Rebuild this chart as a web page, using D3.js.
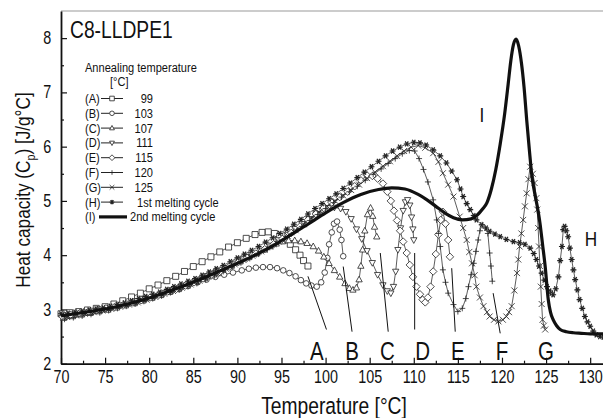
<!DOCTYPE html>
<html lang="en">
<head>
<meta charset="UTF-8">
<title>C8-LLDPE1 heat capacity</title>
<script src="https://d3js.org/d3.v7.min.js"></script>
<style>
    body { margin: 0; background: #fff; }
    svg { display: block; }
    text { font-family: "Liberation Sans", Arial, Helvetica, sans-serif; fill: #111; }
</style>
</head>
<body>
<svg id="chart" width="603" height="418"></svg>
<script>
// [temperature °C, Cp J/g°C]
const seriesA = [[70,2.92],[71,2.94],[72,2.96],[73,2.99],[74,3.02],[75,3.05],[76,3.1],[77,3.16],[78,3.23],[79,3.3],[80,3.38],[81,3.45],[82,3.53],[83,3.61],[84,3.7],[85,3.79],[86,3.88],[87,3.97],[88,4.06],[89,4.15],[90,4.23],[91,4.31],[92,4.38],[92.8,4.42],[93.5,4.43],[94.2,4.4],[94.8,4.35],[95.4,4.28],[96,4.2],[96.6,4.1],[97.1,4.0],[97.5,3.9],[98,3.8]];
const seriesB = [[70.5,2.86],[71.5,2.89],[72.5,2.92],[73.5,2.95],[74.5,2.98],[75.5,3.01],[76.5,3.05],[77.5,3.09],[78.5,3.13],[79.5,3.18],[80.5,3.23],[81.5,3.28],[82.5,3.33],[83.5,3.39],[84.5,3.45],[85.5,3.5],[86.5,3.55],[87.5,3.6],[88.5,3.64],[89.5,3.68],[90.5,3.72],[91.3,3.75],[92.1,3.77],[92.9,3.78],[93.7,3.78],[94.5,3.76],[95.2,3.72],[95.9,3.67],[96.6,3.61],[97.2,3.54],[97.8,3.48],[98.4,3.44],[99.0,3.42],[99.5,3.5],[99.9,3.68],[100.2,3.95],[100.4,4.2],[100.7,4.42],[100.95,4.58],[101.3,4.62],[101.6,4.47],[101.8,4.28],[102.0,3.98]];
const seriesC = [[70.3,2.84],[71.3,2.87],[72.3,2.9],[73.3,2.93],[74.3,2.96],[75.3,2.99],[76.3,3.03],[77.3,3.07],[78.3,3.11],[79.3,3.16],[80.3,3.21],[81.3,3.26],[82.3,3.32],[83.3,3.37],[84.3,3.43],[85.3,3.5],[86.3,3.57],[87.3,3.64],[88.3,3.72],[89.3,3.8],[90.3,3.88],[91.3,3.96],[92.2,4.03],[93.0,4.1],[93.7,4.16],[94.4,4.21],[95.1,4.25],[95.8,4.27],[96.5,4.27],[97.2,4.25],[97.9,4.22],[98.6,4.16],[99.2,4.08],[99.8,3.97],[100.4,3.85],[101.0,3.72],[101.6,3.6],[102.2,3.48],[102.7,3.39],[103.1,3.36],[103.5,3.4],[103.8,3.55],[104.0,3.8],[104.2,4.1],[104.45,4.45],[104.75,4.75],[105.1,4.87],[105.35,4.72],[105.55,4.52],[105.8,4.34]];
const seriesD = [[70.6,2.9],[71.6,2.93],[72.6,2.95],[73.6,2.98],[74.6,3.01],[75.6,3.04],[76.6,3.08],[77.6,3.11],[78.6,3.16],[79.6,3.2],[80.6,3.25],[81.6,3.31],[82.6,3.36],[83.6,3.42],[84.6,3.48],[85.6,3.55],[86.6,3.62],[87.6,3.69],[88.6,3.77],[89.6,3.85],[90.6,3.93],[91.6,4.01],[92.6,4.09],[93.6,4.18],[94.6,4.28],[95.6,4.38],[96.5,4.49],[97.3,4.58],[98.1,4.67],[98.9,4.76],[99.6,4.83],[100.3,4.87],[101.0,4.88],[101.7,4.86],[102.3,4.8],[102.9,4.67],[103.5,4.48],[104.1,4.3],[104.7,4.08],[105.3,3.86],[105.9,3.64],[106.5,3.45],[107.0,3.34],[107.4,3.3],[107.7,3.42],[107.95,3.7],[108.2,4.1],[108.5,4.5],[108.8,4.82],[109.05,4.98],[109.3,5.02],[109.55,4.92],[109.75,4.7],[109.9,4.48],[110.0,4.28]];
const seriesE = [[70.1,2.88],[71.1,2.9],[72.1,2.93],[73.1,2.96],[74.1,2.99],[75.1,3.02],[76.1,3.05],[77.1,3.09],[78.1,3.13],[79.1,3.17],[80.1,3.22],[81.1,3.27],[82.1,3.33],[83.1,3.38],[84.1,3.44],[85.1,3.5],[86.1,3.57],[87.1,3.64],[88.1,3.71],[89.1,3.79],[90.1,3.87],[91.1,3.95],[92.1,4.03],[93.1,4.11],[94.1,4.2],[95.1,4.3],[96.1,4.41],[97.1,4.53],[98.0,4.65],[98.9,4.76],[99.8,4.87],[100.7,4.97],[101.6,5.07],[102.5,5.17],[103.3,5.27],[104.0,5.38],[104.7,5.47],[105.3,5.46],[105.9,5.41],[106.5,5.32],[107.0,5.17],[107.4,5.0],[107.75,4.82],[108.1,4.64],[108.45,4.45],[108.8,4.25],[109.2,4.04],[109.55,3.82],[109.9,3.6],[110.3,3.42],[110.7,3.28],[111.0,3.18],[111.3,3.13],[111.6,3.22],[111.9,3.42],[112.2,3.7],[112.5,4.02],[112.8,4.38],[113.05,4.65],[113.3,4.8],[113.6,4.58],[113.9,4.28],[114.1,3.97]];
const seriesF = [[70.4,2.82],[71.4,2.85],[72.4,2.88],[73.4,2.91],[74.4,2.94],[75.4,2.98],[76.4,3.02],[77.4,3.06],[78.4,3.1],[79.4,3.15],[80.4,3.2],[81.4,3.25],[82.4,3.31],[83.4,3.36],[84.4,3.42],[85.4,3.48],[86.4,3.55],[87.4,3.62],[88.4,3.7],[89.4,3.78],[90.4,3.86],[91.4,3.94],[92.4,4.02],[93.4,4.1],[94.4,4.2],[95.4,4.3],[96.4,4.42],[97.3,4.53],[98.2,4.64],[99.1,4.75],[100.0,4.86],[100.9,4.97],[101.8,5.07],[102.7,5.17],[103.6,5.27],[104.5,5.38],[105.4,5.49],[106.3,5.59],[107.1,5.69],[107.9,5.78],[108.7,5.87],[109.5,5.93],[110.1,5.92],[110.6,5.78],[111.1,5.58],[111.6,5.35],[112.2,5.02],[112.6,4.65],[112.8,4.4],[113.0,4.16],[113.3,3.73],[113.6,3.5],[113.9,3.3],[114.5,3.09],[115.0,2.96],[115.5,3.02],[115.9,3.2],[116.2,3.42],[116.5,3.64],[116.8,3.85],[117.05,4.07],[117.3,4.28],[117.5,4.45],[117.75,4.56],[118.1,4.5],[118.4,4.4],[118.6,4.04],[118.75,3.8],[118.9,3.52]];
const seriesG = [[70.7,2.86],[71.7,2.89],[72.7,2.92],[73.7,2.95],[74.7,2.98],[75.7,3.01],[76.7,3.05],[77.7,3.09],[78.7,3.13],[79.7,3.18],[80.7,3.23],[81.7,3.29],[82.7,3.34],[83.7,3.4],[84.7,3.46],[85.7,3.53],[86.7,3.6],[87.7,3.67],[88.7,3.75],[89.7,3.83],[90.7,3.91],[91.7,3.99],[92.7,4.07],[93.7,4.16],[94.7,4.25],[95.7,4.36],[96.6,4.46],[97.5,4.57],[98.4,4.68],[99.3,4.79],[100.2,4.9],[101.1,5.0],[102.0,5.1],[102.9,5.2],[103.8,5.3],[104.7,5.42],[105.6,5.53],[106.5,5.64],[107.3,5.73],[108.1,5.83],[108.9,5.92],[109.7,5.99],[110.5,6.02],[111.3,5.98],[112.2,5.88],[112.8,5.72],[113.3,5.51],[113.9,5.3],[114.5,5.08],[115.2,4.71],[115.6,4.5],[116.0,4.28],[116.3,4.06],[116.6,3.85],[116.9,3.63],[117.1,3.42],[117.5,3.22],[117.9,3.06],[118.3,2.95],[118.6,2.87],[119.1,2.81],[119.6,2.78],[120.1,2.81],[120.5,2.87],[120.8,2.95],[121.1,3.06],[121.4,3.35],[121.7,3.67],[121.85,3.92],[122.0,4.16],[122.2,4.4],[122.4,4.65],[122.6,4.9],[122.8,5.14],[123.0,5.4],[123.2,5.63],[123.5,5.5],[123.7,5.33],[123.9,5.05],[124.0,4.84],[124.1,4.5],[124.2,4.16],[124.3,3.8],[124.4,3.42],[124.5,3.1],[124.6,2.81],[124.75,2.7],[124.9,2.63]];
const seriesH = [[70.0,2.92],[70.8,2.93],[71.6,2.95],[72.4,2.97],[73.2,2.99],[74.0,3.01],[74.8,3.03],[75.6,3.06],[76.4,3.09],[77.2,3.12],[78.0,3.16],[78.8,3.2],[79.6,3.24],[80.4,3.28],[81.2,3.32],[82.0,3.37],[82.8,3.42],[83.6,3.47],[84.4,3.52],[85.2,3.57],[86.0,3.63],[86.8,3.69],[87.6,3.75],[88.4,3.81],[89.2,3.88],[90.0,3.95],[90.8,4.02],[91.6,4.09],[92.4,4.16],[93.2,4.24],[94.0,4.32],[94.8,4.4],[95.6,4.48],[96.4,4.57],[97.2,4.66],[98.0,4.76],[98.8,4.86],[99.6,4.95],[100.4,5.04],[101.2,5.13],[102.0,5.23],[102.8,5.33],[103.6,5.43],[104.4,5.53],[105.2,5.63],[106.0,5.73],[106.8,5.83],[107.6,5.92],[108.4,5.99],[109.2,6.05],[110.0,6.08],[110.7,6.07],[111.4,6.03],[112.2,5.94],[113.0,5.83],[113.7,5.7],[114.3,5.55],[114.9,5.39],[115.3,5.22],[115.6,5.08],[116.0,4.95],[116.4,4.84],[116.8,4.73],[117.1,4.65],[117.7,4.56],[118.2,4.5],[118.6,4.44],[119.2,4.39],[119.8,4.34],[120.5,4.29],[121.3,4.25],[122.0,4.23],[122.6,4.2],[123.2,4.13],[123.6,4.03],[123.9,3.92],[124.2,3.8],[124.5,3.67],[124.8,3.54],[125.1,3.42],[125.4,3.34],[125.6,3.3],[125.8,3.27],[126.1,3.38],[126.4,3.6],[126.6,3.9],[126.8,4.16],[126.95,4.47],[127.1,4.53],[127.3,4.45],[127.5,4.34],[127.7,4.13],[127.9,3.92],[128.1,3.73],[128.3,3.55],[128.55,3.36],[128.8,3.18],[129.1,3.02],[129.4,2.87],[129.7,2.77],[130.0,2.69],[130.35,2.6],[130.7,2.53],[131.1,2.5],[131.5,2.49]];
const seriesI = [[70,2.88],[72,2.93],[74,2.98],[76,3.04],[78,3.12],[80,3.21],[82,3.32],[84,3.44],[86,3.57],[88,3.71],[90,3.85],[92,4.0],[94,4.17],[96,4.37],[98,4.57],[100,4.78],[102,4.97],[104,5.12],[106,5.21],[107.5,5.24],[109,5.22],[110.5,5.12],[111.5,5.02],[112.5,4.9],[113.5,4.78],[114.5,4.69],[115.5,4.65],[116.5,4.67],[117.2,4.74],[117.8,4.85],[118.3,4.97],[118.8,5.22],[119.3,5.58],[119.8,6.05],[120.3,6.6],[120.7,7.15],[121.0,7.58],[121.3,7.88],[121.6,7.98],[121.9,7.85],[122.2,7.55],[122.5,7.1],[122.8,6.5],[123.1,5.95],[123.4,5.45],[123.7,5.15],[124.0,4.9],[124.3,4.6],[124.6,4.2],[124.9,3.79],[125.25,3.18],[125.5,2.95],[125.8,2.81],[126.2,2.7],[126.6,2.63],[127.3,2.59],[128.1,2.57],[129,2.56],[130,2.55],[131,2.55],[132,2.55]];

const legendKeys = ["(A)", "(B)", "(C)", "(D)", "(E)", "(F)", "(G)", "(H)", "(I)"];
const legendLabels = ["99", "103", "107", "111", "115", "120", "125", "1st melting cycle", "2nd melting cycle"];
const markerTypes = ["square", "circle", "up", "down", "diamond", "plus", "times", "star"];

// letters A-G sit at the annealing temperatures, lines run up to each curve end
const annealLetters = ["A", "B", "C", "D", "E", "F", "G"];
const annealTemps = [99, 103, 107, 111, 115, 120, 125];
const pointerFrom = [[100.1, 2.63], [103.0, 2.59], [107.1, 2.59], [110.1, 2.63], [114.7, 2.59], [119.8, 2.56]];
const pointerTo = [[98.0, 3.61], [102.0, 3.79], [106.2, 4.04], [110.1, 4.04], [114.3, 3.76], [119.0, 3.3]];

const xTicks = d3.range(70, 131, 5);
const xMinor = d3.range(72.5, 131, 5);
const yTicks = [2, 3, 4, 5, 6, 7, 8];
const yMinor = [2.5, 3.5, 4.5, 5.5, 6.5, 7.5];

const NARROW = 0.82; // the figure's lettering is condensed

const svg = d3.select("#chart");
const x = d3.scaleLinear().domain([70, 131.5]).range([61, 603.4]);
const y = d3.scaleLinear().domain([2, 8.5]).range([363.7, 11]);

function addText(parent, px, py, str, size, anchor) {
    return parent.append("text")
        .attr("transform", `translate(${px},${py}) scale(${NARROW},1)`)
        .attr("text-anchor", anchor || "start")
        .style("font-size", size + "px")
        .text(str);
}

function markerPath(type, s) {
    switch (type) {
        case "square": return `M${-s},${-s}h${2 * s}v${2 * s}h${-2 * s}Z`;
        case "circle": return d3.symbol(d3.symbolCircle, Math.PI * s * s)();
        case "up": return `M0,${-s * 1.15}L${s * 1.05},${s * 0.75}L${-s * 1.05},${s * 0.75}Z`;
        case "down": return `M0,${s * 1.15}L${s * 1.05},${-s * 0.75}L${-s * 1.05},${-s * 0.75}Z`;
        case "diamond": return `M0,${-s * 1.25}L${s * 1.25},0L0,${s * 1.25}L${-s * 1.25},0Z`;
        case "plus": return `M${-s},0H${s}M0,${-s}V${s}`;
        case "times": return `M${-s},${-s}L${s},${s}M${-s},${s}L${s},${-s}`;
        case "star": return `M${-s},0H${s}M${-s / 2},${-s * 0.87}L${s / 2},${s * 0.87}M${-s / 2},${s * 0.87}L${s / 2},${-s * 0.87}`;
    }
}

function drawMarker(g, type, cx, cy, s) {
    if (type === "star") {
        g.append("rect").attr("x", cx - 2).attr("y", cy - 2).attr("width", 4).attr("height", 4)
            .attr("fill", "#aaa");
    }
    const open = ["square", "circle", "up", "down", "diamond"].includes(type);
    g.append("path")
        .attr("d", markerPath(type, s))
        .attr("transform", `translate(${cx},${cy})`)
        .attr("fill", open ? "#fff" : "none")
        .attr("stroke", "#222")
        .attr("stroke-width", type === "star" ? 1.1 : 0.8);
}

// frame
svg.append("line").attr("x1", 61).attr("x2", 603).attr("y1", 11).attr("y2", 11)
    .attr("stroke", "#999").attr("stroke-width", 1);

// axes with inward ticks
svg.append("g").attr("transform", `translate(0,${y(2)})`)
    .call(d3.axisBottom(x).tickValues(xTicks).tickSize(-6).tickSizeOuter(0).tickPadding(7).tickFormat(d3.format("d")));
svg.append("g").attr("transform", `translate(0,${y(2)})`)
    .call(d3.axisBottom(x).tickValues(xMinor).tickSize(-3).tickSizeOuter(0).tickFormat(""))
    .select(".domain").remove();
svg.append("g").attr("transform", `translate(${x(70)},0)`)
    .call(d3.axisLeft(y).tickValues(yTicks).tickSize(-6).tickSizeOuter(0).tickPadding(12).tickFormat(d3.format("d")));
svg.append("g").attr("transform", `translate(${x(70)},0)`)
    .call(d3.axisLeft(y).tickValues(yMinor).tickSize(-3).tickSizeOuter(0).tickFormat(""))
    .select(".domain").remove();
svg.selectAll(".domain").attr("stroke", "#111").attr("stroke-width", 1.8);
svg.selectAll(".tick line").attr("stroke", "#111").attr("stroke-width", 1.2);
svg.selectAll(".tick text").attr("font-family", null).style("font-size", "17.5px")
    .attr("fill", "#111").attr("transform", `scale(${NARROW},1)`);

addText(svg, 334, 414, "Temperature [°C]", 23.5, "middle");

const yTitle = svg.append("text")
    .attr("transform", `translate(30,190) rotate(-90) scale(${NARROW},1)`)
    .attr("text-anchor", "middle").style("font-size", "21px");
yTitle.append("tspan").text("Heat capacity (C");
yTitle.append("tspan").attr("dy", 5).style("font-size", "13px").text("p");
yTitle.append("tspan").attr("dy", -5).text(") [J/g°C]");

addText(svg, 70, 38, "C8-LLDPE1", 23.5);

// data series
const allSeries = [seriesA, seriesB, seriesC, seriesD, seriesE, seriesF, seriesG, seriesH];
const thinLine = d3.line().x(d => x(d[0])).y(d => y(d[1]));
const plot = svg.append("g");
allSeries.forEach(data => {
    plot.append("path").attr("d", thinLine(data))
        .attr("fill", "none").attr("stroke", "#333").attr("stroke-width", 0.8);
});
allSeries.forEach((data, i) => {
    const g = plot.append("g");
    const size = markerTypes[i] === "circle" ? 2.8 : 3.0;
    data.forEach(d => drawMarker(g, markerTypes[i], x(d[0]), y(d[1]), size));
});

const thickLine = d3.line().curve(d3.curveMonotoneX).x(d => x(d[0])).y(d => y(d[1]));
plot.append("path").attr("d", thickLine(seriesI))
    .attr("fill", "none").attr("stroke", "#111").attr("stroke-width", 3.2).attr("stroke-linejoin", "round");

// annealing pointers and letters
pointerFrom.forEach((p, i) => {
    svg.append("line")
        .attr("x1", x(p[0])).attr("y1", y(p[1]))
        .attr("x2", x(pointerTo[i][0])).attr("y2", y(pointerTo[i][1]))
        .attr("stroke", "#111").attr("stroke-width", 1);
});
annealLetters.forEach((t, i) => addText(svg, x(annealTemps[i]), 360, t, 25, "middle"));
addText(svg, 482, 122, "I", 21, "middle");
addText(svg, 591, 246, "H", 21, "middle");

// legend
const legend = svg.append("g");
addText(legend, 85, 72, "Annealing temperature", 13.5);
addText(legend, 110, 86, "[°C]", 13.5);
legendKeys.forEach((k, i) => {
    const yy = 98.5 + i * 14.8;
    addText(legend, 85, yy + 4.5, k, 13.5);
    if (i < 8) {
        legend.append("line").attr("x1", 101).attr("x2", 123).attr("y1", yy).attr("y2", yy)
            .attr("stroke", "#222").attr("stroke-width", 1);
        drawMarker(legend, markerTypes[i], 112, yy, 2.3);
    } else {
        legend.append("line").attr("x1", 99).attr("x2", 127).attr("y1", yy).attr("y2", yy)
            .attr("stroke", "#111").attr("stroke-width", 3.2);
    }
    if (i < 7) addText(legend, 153, yy + 4.5, legendLabels[i], 13.5, "end");
    else addText(legend, i === 7 ? 137 : 130, yy + 4.5, legendLabels[i], 13.5);
});
</script>
</body>
</html>
